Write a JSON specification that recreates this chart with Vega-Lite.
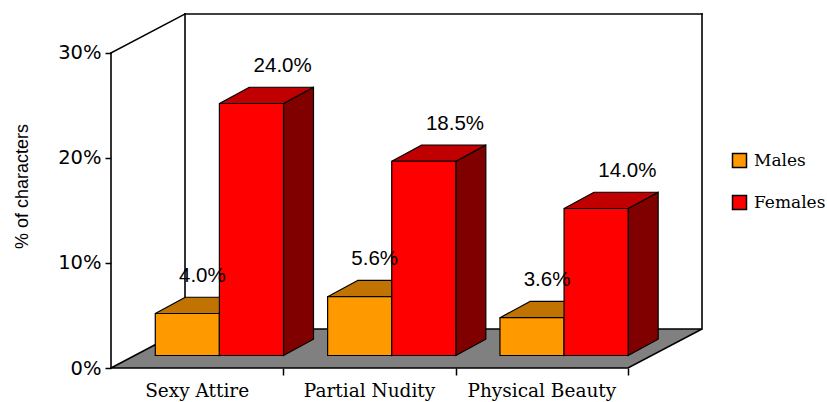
{
  "$schema": "https://vega.github.io/schema/vega-lite/v6.json",
  "width": 591,
  "height": 354,
  "autosize": "none",
  "padding": {"left": 111, "top": 14, "right": 125, "bottom": 34},
  "background": "white",
  "config": {"view": {"stroke": null}},
  "data": {
    "values": [
      {"category": "Sexy Attire", "sex": "Males", "value": 4.0},
      {"category": "Sexy Attire", "sex": "Females", "value": 24.0},
      {"category": "Partial Nudity", "sex": "Males", "value": 5.6},
      {"category": "Partial Nudity", "sex": "Females", "value": 18.5},
      {"category": "Physical Beauty", "sex": "Males", "value": 3.6},
      {"category": "Physical Beauty", "sex": "Females", "value": 14.0}
    ]
  },
  "transform": [
    {"calculate": "indexof(['Sexy Attire','Partial Nudity','Physical Beauty'], datum.category)", "as": "idx"},
    {"calculate": "datum.sex === 'Males' ? 0 : 1", "as": "s"},
    {"calculate": "datum.idx + 0.257 + datum.s * 0.372", "as": "fx0"},
    {"calculate": "datum.fx0 + 0.372", "as": "fx1"},
    {"calculate": "1.19", "as": "fy0"},
    {"calculate": "1.19 + datum.value", "as": "fy1"},
    {"calculate": "datum.category + '|' + datum.sex", "as": "key"}
  ],
  "layer": [
    {
      "transform": [
        {"aggregate": [{"op": "count", "as": "n"}], "groupby": ["sex"]},
        {"calculate": "datum.sex === 'Males' ? 0 : 3.714", "as": "gy"},
        {"calculate": "datum.sex === 'Males' ? 0 : 0.4294", "as": "gx0"},
        {"calculate": "datum.gx0 + 3", "as": "gx1"}
      ],
      "mark": {"type": "area", "orient": "horizontal", "fill": "#808080", "stroke": "black", "strokeWidth": 1.6, "strokeJoin": "miter"},
      "encoding": {
        "y": {"field": "gy", "type": "quantitative", "scale": {"domain": [0, 33.714], "nice": false, "zero": false},
          "axis": {"values": [0, 10, 20, 30], "labelExpr": "datum.value + '%'", "labelFlush": false, "labelOverlap": false,
            "title": "% of characters", "titleFont": "Liberation Sans", "titleFontSize": 18, "titleFontWeight": "normal", "titleColor": "black",
            "titleX": -89, "titleY": 172, "titleAngle": -90, "titleAlign": "center", "titleBaseline": "middle",
            "domain": false, "grid": false, "tickSize": 6, "tickWidth": 1.5, "tickColor": "black",
            "labelFont": "DejaVu Sans", "labelFontSize": 19.5, "labelColor": "black", "labelPadding": 4}},
        "x": {"field": "gx0", "type": "quantitative", "scale": {"domain": [0, 3.4294], "nice": false, "zero": false},
          "axis": {"values": [1, 2, 3], "labels": false, "domain": false, "grid": false, "tickSize": 7, "tickWidth": 1.5, "tickColor": "black", "title": null}},
        "x2": {"field": "gx1"}
      }
    },
    {
      "transform": [{"aggregate": [{"op": "count", "as": "n"}]}],
      "layer": [
        {
          "mark": {"type": "rule", "color": "black", "strokeWidth": 1.6, "strokeCap": "square"},
          "encoding": {
            "x": {"datum": 0, "type": "quantitative", "scale": {"domain": [0, 3.4294], "nice": false, "zero": false}},
            "y": {"datum": 30, "type": "quantitative", "scale": {"domain": [0, 33.714], "nice": false, "zero": false}},
            "x2": {"datum": 0.00001},
            "y2": {"datum": 0.001}
          }
        },
        {
          "mark": {"type": "rule", "color": "black", "strokeWidth": 1.6, "strokeCap": "square"},
          "encoding": {
            "x": {"datum": 0, "type": "quantitative", "scale": {"domain": [0, 3.4294], "nice": false, "zero": false}},
            "y": {"datum": 30, "type": "quantitative", "scale": {"domain": [0, 33.714], "nice": false, "zero": false}},
            "x2": {"datum": 0.4294},
            "y2": {"datum": 33.714}
          }
        },
        {
          "mark": {"type": "rule", "color": "black", "strokeWidth": 1.6, "strokeCap": "square"},
          "encoding": {
            "x": {"datum": 0.4294, "type": "quantitative", "scale": {"domain": [0, 3.4294], "nice": false, "zero": false}},
            "y": {"datum": 3.714, "type": "quantitative", "scale": {"domain": [0, 33.714], "nice": false, "zero": false}},
            "y2": {"datum": 33.714}
          }
        },
        {
          "mark": {"type": "rule", "color": "black", "strokeWidth": 1.6, "strokeCap": "square"},
          "encoding": {
            "x": {"datum": 0.4294, "type": "quantitative", "scale": {"domain": [0, 3.4294], "nice": false, "zero": false}},
            "x2": {"datum": 3.4294},
            "y": {"datum": 33.714, "type": "quantitative", "scale": {"domain": [0, 33.714], "nice": false, "zero": false}}
          }
        },
        {
          "mark": {"type": "rule", "color": "black", "strokeWidth": 1.6, "strokeCap": "square"},
          "encoding": {
            "x": {"datum": 3.4294, "type": "quantitative", "scale": {"domain": [0, 3.4294], "nice": false, "zero": false}},
            "y": {"datum": 3.714, "type": "quantitative", "scale": {"domain": [0, 33.714], "nice": false, "zero": false}},
            "y2": {"datum": 33.714}
          }
        }
      ]
    },
    {
      "transform": [
        {"calculate": "[0, 1]", "as": "pts"},
        {"flatten": ["pts"], "as": ["pt"]},
        {"calculate": "datum.fx1 + datum.pt * 0.174", "as": "sx"},
        {"calculate": "datum.fy0 + datum.pt * 1.55", "as": "sy0"},
        {"calculate": "datum.fy1 + datum.pt * 1.55", "as": "sy1"},
        {"calculate": "datum.fx0 + datum.pt * 0.174", "as": "tx0"}
      ],
      "layer": [
        {
          "mark": {"type": "area", "orient": "vertical", "stroke": "black", "strokeWidth": 1.2, "strokeJoin": "miter"},
          "encoding": {
            "x": {"field": "sx", "type": "quantitative", "scale": {"domain": [0, 3.4294], "nice": false, "zero": false}},
            "y": {"field": "sy0", "type": "quantitative", "scale": {"domain": [0, 33.714], "nice": false, "zero": false}},
            "y2": {"field": "sy1"},
            "detail": {"field": "key", "type": "nominal"},
            "fill": {"condition": {"test": "datum.sex === 'Males'", "value": "#804C00"}, "value": "#800000"}
          }
        },
        {
          "mark": {"type": "area", "orient": "horizontal", "stroke": "black", "strokeWidth": 1.2, "strokeJoin": "miter"},
          "encoding": {
            "y": {"field": "sy1", "type": "quantitative", "scale": {"domain": [0, 33.714], "nice": false, "zero": false}},
            "x": {"field": "tx0", "type": "quantitative", "scale": {"domain": [0, 3.4294], "nice": false, "zero": false}},
            "x2": {"field": "sx"},
            "detail": {"field": "key", "type": "nominal"},
            "fill": {"condition": {"test": "datum.sex === 'Males'", "value": "#C07300"}, "value": "#C00000"}
          }
        }
      ]
    },
    {
      "mark": {"type": "rect", "stroke": "black", "strokeWidth": 1.2},
      "encoding": {
        "x": {"field": "fx0", "type": "quantitative", "scale": {"domain": [0, 3.4294], "nice": false, "zero": false}},
        "x2": {"field": "fx1"},
        "y": {"field": "fy0", "type": "quantitative", "scale": {"domain": [0, 33.714], "nice": false, "zero": false}},
        "y2": {"field": "fy1"},
        "color": {
          "field": "sex", "type": "nominal",
          "scale": {"domain": ["Males", "Females"], "range": ["#FF9900", "#FF0000"]},
          "legend": {"title": null, "orient": "none", "legendX": 620, "legendY": 138, "padding": 0,
            "symbolType": "square", "symbolSize": 196, "symbolStrokeColor": "black", "symbolStrokeWidth": 1.5, "symbolOpacity": 1,
            "labelFont": "DejaVu Serif", "labelFontSize": 17, "labelColor": "black", "labelOffset": 6, "rowPadding": 21}
        }
      }
    },
    {
      "transform": [
        {"calculate": "datum.idx + (datum.s === 1 ? 0.996 : 0.53)", "as": "lx"},
        {"calculate": "datum.value + 4.75", "as": "ly"},
        {"calculate": "format(datum.value, '.1f') + '%'", "as": "lbl"}
      ],
      "mark": {"type": "text", "font": "Liberation Sans", "fontSize": 20.5, "align": "center", "baseline": "middle", "color": "black"},
      "encoding": {
        "x": {"field": "lx", "type": "quantitative", "scale": {"domain": [0, 3.4294], "nice": false, "zero": false}},
        "y": {"field": "ly", "type": "quantitative", "scale": {"domain": [0, 33.714], "nice": false, "zero": false}},
        "text": {"field": "lbl", "type": "nominal"}
      }
    },
    {
      "transform": [
        {"filter": "datum.sex === 'Males'"},
        {"calculate": "datum.idx + 0.5", "as": "cx"}
      ],
      "mark": {"type": "text", "font": "DejaVu Serif", "fontSize": 18.5, "align": "center", "baseline": "alphabetic", "dy": 28.5, "color": "black"},
      "encoding": {
        "x": {"field": "cx", "type": "quantitative", "scale": {"domain": [0, 3.4294], "nice": false, "zero": false}},
        "y": {"datum": 0, "type": "quantitative", "scale": {"domain": [0, 33.714], "nice": false, "zero": false}},
        "text": {"field": "category", "type": "nominal"}
      }
    }
  ]
}
